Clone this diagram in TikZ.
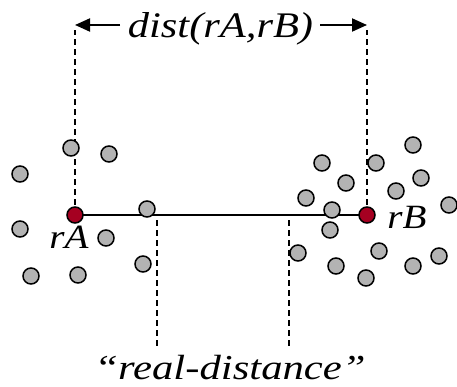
\documentclass[tikz,border=0pt]{standalone}
\usepackage{fontspec}
\setmainfont{Liberation Serif}
\usetikzlibrary{arrows.meta,backgrounds}
\definecolor{dotgray}{HTML}{B3B3B3}
\definecolor{dotred}{HTML}{A50021}
\tikzset{
  dot/.style={circle,draw=black,line width=1.5pt,fill=dotgray,minimum size=16pt,inner sep=0pt},
  reddot/.style={dot,fill=dotred},
  guide/.style={line width=1.5pt,dash pattern=on 6pt off 4pt},
  lbl/.style={inner sep=0pt,anchor=base},
  arr/.style={line width=2pt,-{Triangle[length=15pt,width=13pt]}}
}
\newcommand{\lblfont}[2]{{\fontsize{#1}{#1}\selectfont\itshape #2}}
\begin{document}
\begin{tikzpicture}[x=1pt,y=-1pt]
\useasboundingbox (0,0) rectangle (457,387);
% red points
\node[reddot] (rA) at (75,215) {};
\node[reddot] (rB) at (367,215) {};
% gray points around rA
\node[dot] (a1) at (71,148) {};
\node[dot] (a2) at (109,154) {};
\node[dot] (a3) at (20,174) {};
\node[dot] (a4) at (147,209) {};
\node[dot] (a5) at (20,229) {};
\node[dot] (a6) at (106,238) {};
\node[dot] (a7) at (143,264) {};
\node[dot] (a8) at (31,276) {};
\node[dot] (a9) at (78,275) {};
% gray points around rB
\node[dot] (b1) at (413,145) {};
\node[dot] (b2) at (322,163) {};
\node[dot] (b3) at (376,163) {};
\node[dot] (b4) at (421,178) {};
\node[dot] (b5) at (346,183) {};
\node[dot] (b6) at (396,191) {};
\node[dot] (b7) at (306,198) {};
\node[dot] (b8) at (449,205) {};
\node[dot] (b9) at (332,210) {};
\node[dot] (b10) at (330,230) {};
\node[dot] (b11) at (298,253) {};
\node[dot] (b12) at (379,251) {};
\node[dot] (b13) at (439,256) {};
\node[dot] (b14) at (336,266) {};
\node[dot] (b15) at (413,266) {};
\node[dot] (b16) at (366,278) {};
% labels
\node[lbl] (lA) at (69,248) {\scalebox{1.15}[1]{\lblfont{34}{rA}}};
\node[lbl] (lB) at (407,229) {\scalebox{1.15}[1]{\lblfont{34}{rB}}};
\node[lbl] (dist) at (220.5,38) {\scalebox{1.18}[1]{\lblfont{36}{dist(rA,rB)}}};
\node[lbl] (real) at (230,379) {\scalebox{1.22}[1]{\lblfont{35}{“real-distance”}}};
% guide coordinates
\coordinate (tA) at (75,30);
\coordinate (tB) at (367,30);
\coordinate (hA) at (75,25);
\coordinate (hB) at (367,25);
\coordinate (p1) at (157,220);
\coordinate (q1) at (157,347);
\coordinate (p2) at (289,220);
\coordinate (q2) at (289,347);
\coordinate (sA) at (120,25);
\coordinate (sB) at (320,25);
\begin{scope}[on background layer]
\draw[line width=1.6pt] (rA.center) -- (rB.center);
\draw[guide] (rA.center) -- (tA);
\draw[guide] (rB.center) -- (tB);
\end{scope}
\draw[guide] (p1) -- (q1);
\draw[guide] (p2) -- (q2);
\draw[arr] (sA) -- (hA);
\draw[arr] (sB) -- (hB);
\end{tikzpicture}
\end{document}
